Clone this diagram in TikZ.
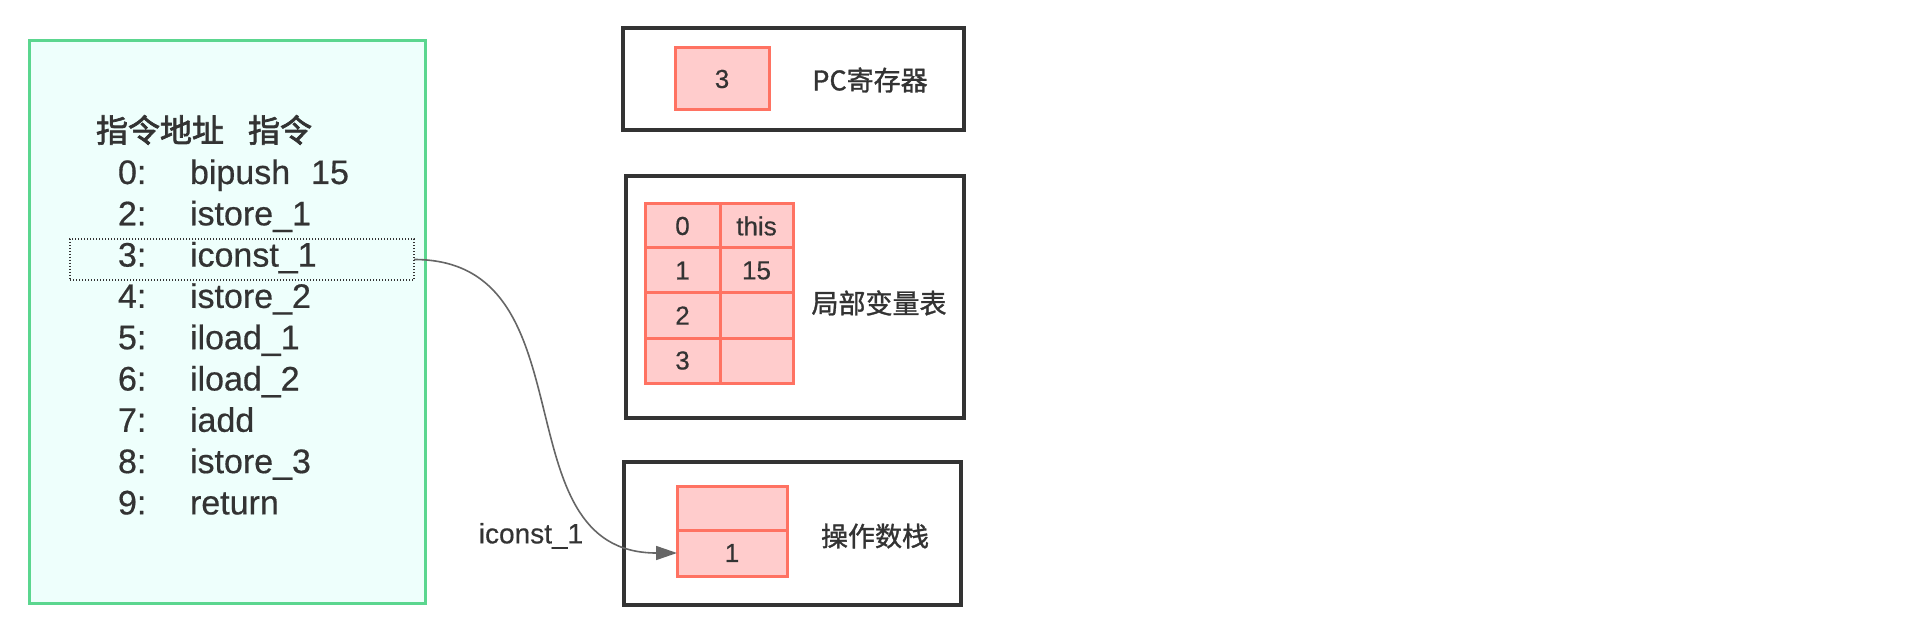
\documentclass[tikz,border=0pt]{standalone}
\usepackage{fontspec}
\setmainfont{Liberation Sans}[FakeBold=0.5]
\newfontfamily\cjk{Noto Sans CJK SC}[FakeBold=1.2]
\newfontfamily\cjktitle{Noto Sans CJK SC}[FakeBold=2.2]
\usetikzlibrary{arrows.meta}
\definecolor{txt}{HTML}{333333}
\definecolor{grnline}{HTML}{5BD68F}
\definecolor{grnfill}{HTML}{EEFFFC}
\definecolor{pinkfill}{HTML}{FFCCCC}
\definecolor{pinkline}{HTML}{FF7262}
\definecolor{boxline}{HTML}{333333}
\definecolor{arrowc}{HTML}{666666}
\newcommand\myfs[1]{\fontsize{#1}{#1}\selectfont}
\tikzset{
  every node/.style={inner sep=0pt, outer sep=0pt, text=txt},
  greenbox/.style={draw=grnline, fill=grnfill, line width=3pt},
  panel/.style={draw=boxline, fill=white, line width=3.5pt},
  cell/.style={draw=pinkline, fill=pinkfill, line width=3pt, font=\myfs{26}},
  instr/.style={anchor=base west, font=\myfs{34}},
  label/.style={font=\cjk\myfs{27}},
  selbox/.style={draw=txt, line width=1.2pt, dash pattern=on 1.2pt off 1.8pt},
  conn/.style={draw=arrowc, line width=1.6pt, -{Triangle[length=21pt,width=14pt]}}
}
\begin{document}
\begin{tikzpicture}[x=1pt,y=-1pt]
\useasboundingbox[fill=white] (0,0) rectangle (1922,636);
% code panel
\node[greenbox, minimum width=396pt, minimum height=562pt] (code) at (227,322) {};
\node[anchor=west, font=\cjktitle\myfs{32}] (title) at (96,130) {指令地址\hspace{24pt}指令};
\foreach \n/\ins [count=\i from 0] in {0/bipush\hspace{21pt}15, 2/istore\_1, 3/iconst\_1, 4/istore\_2, 5/iload\_1, 6/iload\_2, 7/iadd, 8/istore\_3, 9/return}{
  \node[instr] (num\i) at (118,{184+41.3*\i}) {\n:};
  \node[instr] (ins\i) at (190,{184+41.3*\i}) {\ins};
}
\node[selbox, minimum width=344pt, minimum height=41pt] (sel) at (242,259.5) {};
% PC register
\node[panel, minimum width=341pt, minimum height=102pt] (pcbox) at (793.5,79) {};
\node[cell, minimum width=94pt, minimum height=62pt] (pc) at (722,79) {3};
\node[label] (pclabel) at (870,80) {PC寄存器};
% local variables
\node[panel, minimum width=338pt, minimum height=242pt] (lvbox) at (795,297) {};
\node[cell, minimum width=75pt, minimum height=44pt] (l0a) at (682.5,226) {0};
\node[cell, minimum width=73pt, minimum height=44pt] (l0b) at (756.5,226) {this};
\node[cell, minimum width=75pt, minimum height=45pt] (l1a) at (682.5,270.5) {1};
\node[cell, minimum width=73pt, minimum height=45pt] (l1b) at (756.5,270.5) {15};
\node[cell, minimum width=75pt, minimum height=45pt] (l2a) at (682.5,315.5) {2};
\node[cell, minimum width=73pt, minimum height=45pt] (l2b) at (756.5,315.5) {};
\node[cell, minimum width=75pt, minimum height=45pt] (l3a) at (682.5,360.5) {3};
\node[cell, minimum width=73pt, minimum height=45pt] (l3b) at (756.5,360.5) {};
\node[label] (lvlabel) at (879,303) {局部变量表};
% operand stack
\node[panel, minimum width=337pt, minimum height=143pt] (opbox) at (792.5,533.5) {};
\node[cell, minimum width=110pt, minimum height=44pt] (s1) at (732,508) {};
\node[cell, minimum width=110pt, minimum height=46pt] (s2) at (732,553) {1};
\node[label] (oplabel) at (875,536) {操作数栈};
% connector
\node[font=\myfs{28}] (arrlabel) at (531,536) {iconst\_1};
\draw[conn] (sel.east) .. controls +(180,0) and +(-180,0) .. (s2.west);
\end{tikzpicture}
\end{document}
